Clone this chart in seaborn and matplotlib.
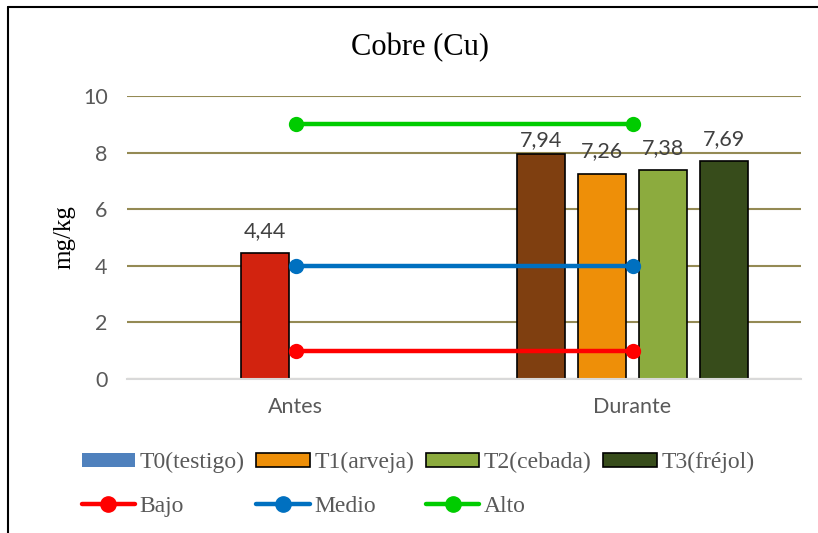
import pandas as pd
import seaborn as sns
import matplotlib.pyplot as plt
from matplotlib.patches import Patch
from matplotlib.lines import Line2D


# data
periodos = ["Antes", "Durante"]
tratamientos = ["T0(testigo)", "T1(arveja)", "T2(cebada)", "T3(fréjol)"]
antes_valores = [None, 4.44, None, None]
durante_valores = [7.94, 7.26, 7.38, 7.69]
niveles = ["Bajo", "Medio", "Alto"]
niveles_valores = [1, 4, 9]

# colours
colores_trat = ["#4F81BD", "#EE8F08", "#8CAB3E", "#374C1B"]
color_antes = "#D2230F"
color_durante_t0 = "#7F3F10"
colores_nivel = ["#FF0000", "#0070C0", "#00CC00"]

rows = []
for periodo, vals in zip(periodos, [antes_valores, durante_valores]):
    for trat, v in zip(tratamientos, vals):
        if v is not None:
            rows.append({"periodo": periodo, "tratamiento": trat, "valor": v})
df = pd.DataFrame(rows)

lineas = pd.DataFrame(
    [{"x": i, "nivel": n, "valor": v}
     for n, v in zip(niveles, niveles_valores) for i in range(len(periodos))]
)

sns.set_theme(style="white")
plt.rcParams["font.family"] = ["Lato", "DejaVu Sans"]

fig = plt.figure(figsize=(8.18, 5.33), dpi=100)
ax = fig.add_axes([127 / 818, 1 - 379 / 533, (801 - 127) / 818, (379 - 96) / 533])

pal = dict(zip(tratamientos, [color_durante_t0] + colores_trat[1:]))
sns.barplot(data=df, x="periodo", y="valor", hue="tratamiento", order=periodos,
            hue_order=tratamientos, palette=pal, width=0.725, gap=0.21,
            edgecolor="black", linewidth=1.2, saturation=1, legend=False,
            ax=ax, zorder=3)

# the Antes bar is drawn red in the original
for p in ax.patches:
    if p.get_x() + p.get_width() / 2 < 0.5 and p.get_height() > 0:
        p.set_facecolor(color_antes)

for i, cont in enumerate(ax.containers):
    labels = [f"{v:.2f}".replace(".", ",") if v == v and v > 0 else ""
              for v in cont.datavalues]
    pad = 3 if tratamientos[i] == "T0(testigo)" else 9
    ax.bar_label(cont, labels=labels, padding=pad, fontsize=15.5, color="#404040")

sns.lineplot(data=lineas, x="x", y="valor", hue="nivel", hue_order=niveles,
             palette=colores_nivel, marker="o", markersize=11, markeredgewidth=0,
             linewidth=3.2, legend=False, ax=ax, zorder=5)

ax.set_ylim(0, 10)
ax.set_xlim(-0.5, 1.5)
ax.set_yticks(range(0, 11, 2))
ax.yaxis.grid(True, color="#948A54", linewidth=1.5)
ax.set_axisbelow(True)
for s in ["top", "right", "left"]:
    ax.spines[s].set_visible(False)
ax.spines["bottom"].set_color("#D9D9D9")
ax.spines["bottom"].set_linewidth(1.5)
ax.spines["bottom"].set_zorder(4)
ax.tick_params(axis="y", length=0, pad=14, labelsize=15.5, labelcolor="#595959")
ax.tick_params(axis="x", length=0, pad=13, labelsize=15.5, labelcolor="#595959")
ax.set_xlabel("")
ax.set_ylabel("mg/kg", family="Liberation Serif", fontsize=18, color="black", labelpad=5)

fig.suptitle("Cobre (Cu)", x=0.513, y=0.91, va="center",
             family="Liberation Serif", fontsize=22, color="black")

# legend: bars in the first row, level lines in the second
handles = {}
for t, c in zip(tratamientos, colores_trat):
    ec = "none" if t == "T0(testigo)" else "black"
    handles[t] = Patch(facecolor=c, edgecolor=ec, linewidth=1.2)
for n, c in zip(niveles, colores_nivel):
    handles[n] = Line2D([], [], color=c, linewidth=3.2, marker="o", markersize=11)
orden = ["T0(testigo)", "Bajo", "T1(arveja)", "Medio", "T2(cebada)", "Alto", "T3(fréjol)"]
leg = fig.legend([handles[k] for k in orden], orden, ncol=4, loc="upper left",
                 bbox_to_anchor=(70 / 818, 1 - 440 / 533), frameon=False,
                 prop={"family": "Liberation Serif", "size": 17},
                 handlelength=2.25, handleheight=0.55, handletextpad=0.2,
                 columnspacing=0.5, labelspacing=0.98, borderpad=0)
for txt in leg.get_texts():
    txt.set_color("#595959")

# outer frame (top and left edges only are visible in the original)
fig.add_artist(Line2D([8 / 818, 1], [1 - 7 / 533, 1 - 7 / 533], color="black",
                      linewidth=1.5, transform=fig.transFigure))
fig.add_artist(Line2D([8 / 818, 8 / 818], [0, 1 - 7 / 533], color="black",
                      linewidth=1.5, transform=fig.transFigure))

fig.savefig("out.png", dpi=100)
